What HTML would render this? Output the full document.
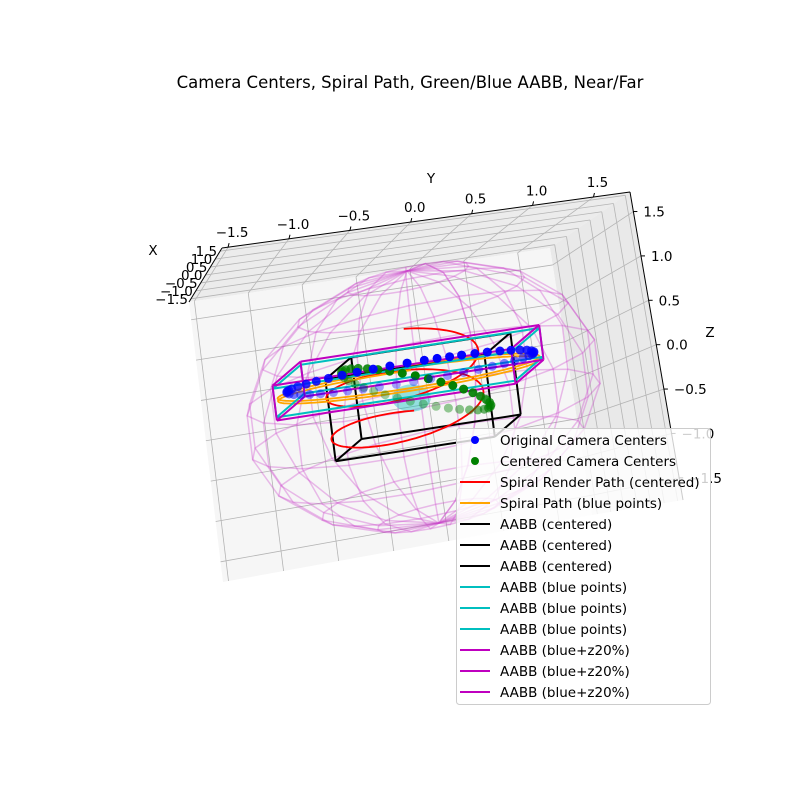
<!DOCTYPE html>
<html><head><meta charset="utf-8">
<style>
html,body{margin:0;padding:0;background:#fff;}
svg{display:block;font-family:"DejaVu Sans","Liberation Sans",sans-serif;}
</style></head>
<body>
<svg id="chart" width="800" height="800" viewBox="0 0 800 800" xmlns="http://www.w3.org/2000/svg">
<rect width="800" height="800" fill="#fff"/>
<text x="410" y="88" text-anchor="middle" font-size="16.5" fill="#000">Camera Centers, Spiral Path, Green/Blue AABB, Near/Far</text>
<g id="panes"></g>
<g id="plot"></g>
<g id="legend"></g>
</svg>
<script>
// ---- data ----
const yTicks = [-1.5, -1.0, -0.5, 0.0, 0.5, 1.0, 1.5];
const xTicks = [-1.5, -1.0, -0.5, 0.0, 0.5, 1.0, 1.5];
const zTicks = [-1.5, -1.0, -0.5, 0.0, 0.5, 1.0, 1.5];
const blueAnglesDeg = [0,6,12,18,25,32,40,48,56,64,72,80,86,90,94,100,108,116,124,132,140,148,156,164,172,180,188,196,204,212,220,228,236,244,252,260,266,270,274,280,288,296,304,312,320,328,336,344,352];
const blueRing = [0.4, 1.05, -0.08, 0.3]; // rx, ry, centerY, z
const greenAnglesDeg = [0,10,20,30,40,50,60,70,80,88,95,105,115,125,135,145,155,165,175,185,195,205,215,225,235,245,255,265,272,280,290,300,310,320,330,340,350];
const greenRing = [0.35, 0.6, -0.05, 0.1, -0.55]; // rx, ry, centerY, z0, tiltZperY
const sphereRadius = 1.45;
const sphereLonCount = 20, sphereLatCount = 10;
const aabbCentered = [[-0.37,0.37],[-0.68,0.68],[-0.47,0.47]];
const aabbBlue = [[-0.4,0.4],[-1.12,0.92],[0.135,0.465]];
const aabbBlueZ20 = [[-0.4,0.4],[-1.12,0.92],[0.1,0.5]];
const spiralRed = [0.8, 0.66, 0.52, -0.42, 2, -0.15]; // rx, ry, zStart, zEnd, turns, centerY
const spiralOrange = [0.35, 1.12, 0.26, 0.2, 2, -0.1];
const nearSphere = [-0.15, -0.05, 0.05, 0.13];
const legendLabels = ["Original Camera Centers","Centered Camera Centers","Spiral Render Path (centered)","Spiral Path (blue points)","AABB (centered)","AABB (centered)","AABB (centered)","AABB (blue points)","AABB (blue points)","AABB (blue points)","AABB (blue+z20%)","AABB (blue+z20%)","AABB (blue+z20%)"];
const legendColors = ["#0000ff","#008000","#ff0000","#ffa500","#000000","#000000","#000000","#00bfbf","#00bfbf","#00bfbf","#bf00bf","#bf00bf","#bf00bf"];
const legendKinds = ["dot","dot","line","line","line","line","line","line","line","line","line","line","line"];

// ---- projection / axis functions ----
const O=[423,397], EX=[35,-30], EY=[117,-18], EZ=[-11,-87], EXS=[5,-32];
function proj(x,y,z){return [O[0]+EX[0]*x+EY[0]*y+EZ[0]*z, O[1]+EX[1]*x+EY[1]*y+EZ[1]*z];}
function projS(x,y,z){return [O[0]+EXS[0]*x+EY[0]*y+EZ[0]*z, O[1]+EXS[1]*x+EY[1]*y+EZ[1]*z];}
const Y_MIN=-1.55, Y_MAX=1.8, Z_MAX=1.72, Z_MIN=-1.75, X_MIN=-1.7, X_MAX=1.7;
function lerp(a,b,t){return [a[0]+(b[0]-a[0])*t, a[1]+(b[1]-a[1])*t];}
function bil(P,u,v){return lerp(lerp(P[0],P[1],u), lerp(P[3],P[2],u), v);}
const uY=y=>(y-Y_MIN)/(Y_MAX-Y_MIN), vZ=z=>(Z_MAX-z)/(Z_MAX-Z_MIN), vX=x=>(X_MAX-x)/(X_MAX-X_MIN), uX=x=>(x-X_MIN)/(X_MAX-X_MIN);
const NS="http://www.w3.org/2000/svg";
function mk(parent,tag,attrs){const e=document.createElementNS(NS,tag);for(const k in attrs)e.setAttribute(k,attrs[k]);parent.appendChild(e);return e;}
const pts=a=>a.map(p=>p[0].toFixed(1)+","+p[1].toFixed(1)).join(" ");

const panes=document.getElementById('panes');
const plot=document.getElementById('plot');
const leg=document.getElementById('legend');

const bigPane=[[189,302],[550,248],[592,515],[223,582]];
const topPane=[[222,248],[630,192],[550,248],[189,302]];
const rightPane=[[550,248],[630,192],[683,500],[592,515]];
let e;
e=mk(panes,'polygon',{points:pts(topPane),fill:'#ececec'});


e=mk(panes,'polygon',{points:pts(rightPane),fill:'#e9e9e9'});


e=mk(panes,'polygon',{points:pts(bigPane),fill:'#f6f6f6'});


const G='#b4b4b4';
function gl(P1,P2,name){const l=mk(panes,'line',{x1:P1[0],y1:P1[1],x2:P2[0],y2:P2[1],stroke:G,'stroke-width':0.8});

}
yTicks.forEach(t=>{gl(bil(bigPane,uY(t),0),bil(bigPane,uY(t),1),'y-gridline');gl(bil(topPane,uY(t),0),bil(topPane,uY(t),1),'y-gridline');});
zTicks.forEach(t=>{gl(bil(bigPane,0,vZ(t)),bil(bigPane,1,vZ(t)),'z-gridline');gl(bil(rightPane,0,vZ(t)),bil(rightPane,1,vZ(t)),'z-gridline');});
xTicks.forEach(t=>{gl(bil(topPane,0,vX(t)),bil(topPane,1,vX(t)),'x-gridline');gl(bil(rightPane,uX(t),0),bil(rightPane,uX(t),1),'x-gridline');});
function al(a,b,name){const l=mk(panes,'line',{x1:a[0],y1:a[1],x2:b[0],y2:b[1],stroke:'#000','stroke-width':1});

}
al(topPane[0],topPane[1],'y-axis-line');
al(topPane[0],topPane[3],'x-axis-line');
al(rightPane[1],rightPane[2],'z-axis-line');
function txt(x,y,s,anchor,name,size){const t=mk(panes,'text',{x:x,y:y,'font-size':size||13.5,'text-anchor':anchor,fill:'#000'});t.textContent=s;

return t;}
const fmt=v=>(v<0?'\u2212':'')+Math.abs(v).toFixed(1);
yTicks.forEach(t=>{const p=lerp(topPane[0],topPane[1],uY(t));txt(p[0]+4,p[1]-10,fmt(t),'middle','y-tick-label');
al(p,[p[0]+1,p[1]-4],'y-tick');});
xTicks.forEach(t=>{const p=lerp(topPane[0],topPane[3],vX(t));txt(p[0]-3,p[1]+5,fmt(t),'end','x-tick-label');});
zTicks.forEach(t=>{const p=lerp(rightPane[1],rightPane[2],vZ(t));txt(p[0]+10,p[1]+5,fmt(t),'start','z-tick-label');al(p,[p[0]+4,p[1]],'z-tick');});
txt(431,183,'Y','middle','y-axis-title',13.5);
txt(153,255,'X','middle','x-axis-title',13.5);
txt(710,337,'Z','middle','z-axis-title',13.5);

// ---- sphere wireframe ----
const sg=mk(plot,'g',{stroke:'#cc44cc','stroke-opacity':0.35,'stroke-width':1.5,fill:'none'});


for(let i=0;i<sphereLonCount;i++){const u=2*Math.PI*i/(sphereLonCount-1);const a=[];
for(let j=0;j<sphereLatCount;j++){const v=Math.PI*j/(sphereLatCount-1);a.push(proj(sphereRadius*Math.cos(u)*Math.sin(v),sphereRadius*Math.sin(u)*Math.sin(v),sphereRadius*Math.cos(v)));}
const p=mk(sg,'polyline',{points:pts(a)});

}
for(let j=0;j<sphereLatCount;j++){const v=Math.PI*j/(sphereLatCount-1);const a=[];
for(let i=0;i<sphereLonCount;i++){const u=2*Math.PI*i/(sphereLonCount-1);a.push(proj(sphereRadius*Math.cos(u)*Math.sin(v),sphereRadius*Math.sin(u)*Math.sin(v),sphereRadius*Math.cos(v)));}
const p=mk(sg,'polyline',{points:pts(a)});

}

// ---- near sphere ----
{const c=proj(nearSphere[0],nearSphere[1],nearSphere[2]);const r=nearSphere[3]*150;
const ns=mk(plot,'ellipse',{cx:c[0],cy:c[1],rx:r,ry:r*0.7,fill:'#00bfbf','fill-opacity':0.4});

}

// ---- boxes ----
function box(B,color,name){const g=mk(plot,'g',{stroke:color,'stroke-width':2,fill:'none'});


const c=[];for(const x of B[0])for(const y of B[1])for(const z of B[2])c.push([x,y,z]);
for(let i=0;i<8;i++)for(let j=i+1;j<8;j++){let d=0;for(let k=0;k<3;k++)if(c[i][k]!==c[j][k])d++;
if(d===1){const a=proj(...c[i]),b=proj(...c[j]);const l=mk(g,'line',{x1:a[0],y1:a[1],x2:b[0],y2:b[1]});

}}}
box(aabbCentered,'#000','aabb-centered');

// ---- spirals ----
function spiral(S,color,name){const a=[];const n=240;for(let i=0;i<=n;i++){const t=i/n;const th=2*Math.PI*S[4]*t;
a.push(projS(S[0]*Math.cos(th),S[5]+S[1]*Math.sin(th),S[2]+(S[3]-S[2])*t));}
const p=mk(plot,'polyline',{points:pts(a),fill:'none',stroke:color,'stroke-width':1.8});

}
spiral(spiralRed,'#ff0000','spiral-render-path');
spiral(spiralOrange,'#ffa500','spiral-path-blue');
box(aabbBlue,'#00bfbf','aabb-blue-points');
box(aabbBlueZ20,'#bf00bf','aabb-blue-z20');

// ---- points ----
function ringPts(angles,cx,cy,cz,rx,ry,tilt,color,name){
const list=angles.map(d=>{const a=d*Math.PI/180;const x=rx*Math.cos(a),y=cy+ry*Math.sin(a);return [x,y,cz+tilt*(y-cy)];});
list.sort((p,q)=>p[0]-q[0]);
list.forEach(p=>{const s=proj(...p);const op=0.35+0.65*(p[0]+rx)/(2*rx);
const c=mk(plot,'circle',{cx:s[0].toFixed(1),cy:s[1].toFixed(1),r:4.5,fill:color,'fill-opacity':op.toFixed(2)});

});}
ringPts(greenAnglesDeg,0,greenRing[2],greenRing[3],greenRing[0],greenRing[1],greenRing[4],'#008000','centered-camera-point');
ringPts(blueAnglesDeg,0,blueRing[2],blueRing[3],blueRing[0],blueRing[1],0,'#0000ff','original-camera-point');

// ---- legend ----
{const r=mk(leg,'rect',{x:456.5,y:428.5,width:254,height:276,rx:3,fill:'#fff','fill-opacity':0.8,stroke:'#cccccc'});


legendLabels.forEach((lab,i)=>{const y=440+i*21;
const g=mk(leg,'g',{});


if(legendKinds[i]==='dot'){const c=mk(g,'circle',{cx:475,cy:y,r:4,fill:legendColors[i]});

}
else{const l=mk(g,'line',{x1:460,y1:y,x2:490,y2:y,stroke:legendColors[i],'stroke-width':2});

}
const t=mk(g,'text',{x:500,y:y+5,'font-size':13.5,fill:'#000'});t.textContent=lab;

});}
</script>
</body></html>
